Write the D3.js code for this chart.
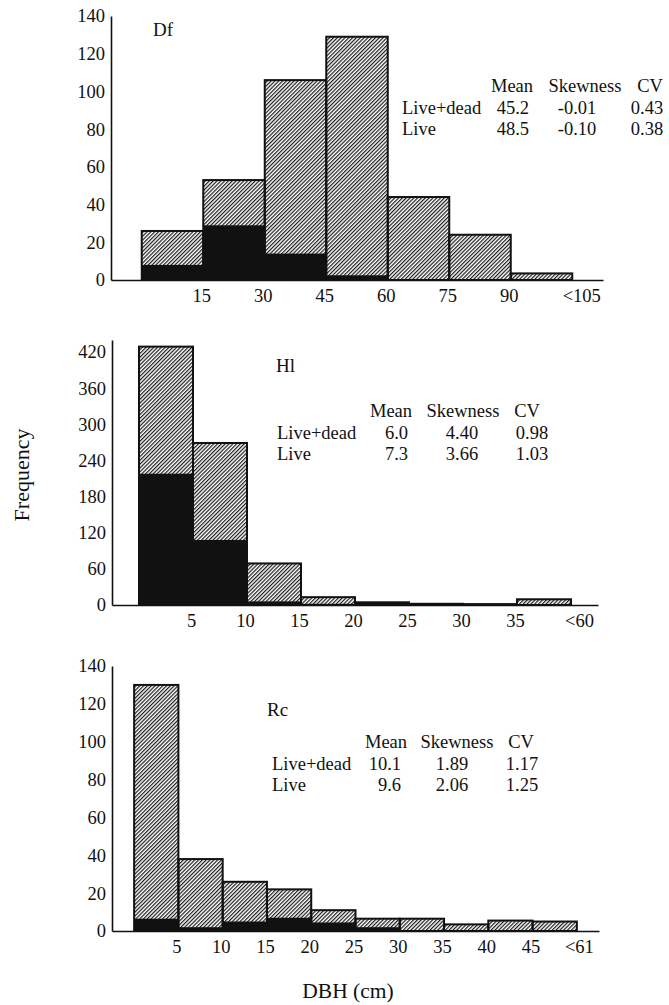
<!DOCTYPE html>
<html>
<head>
<meta charset="utf-8">
<script src="https://cdn.jsdelivr.net/npm/d3@7"></script>
<style>
  body { margin: 0; background: #fff; }
  svg text { font-family: "Liberation Serif", "Times New Roman", serif; fill: #111; }
</style>
</head>
<body>
<div id="chart"></div>
<script>
// Df
const dfTicks = ["15", "30", "45", "60", "75", "90", "<105"];
const dfAll = [26, 53, 106, 129, 44, 24, 3.5];
const dfDark = [8, 29, 14, 2.5, 0, 0, 0];
const dfStats = [["45.2", "-0.01", "0.43"], ["48.5", "-0.10", "0.38"]];

// Hl
const hlTicks = ["5", "10", "15", "20", "25", "30", "35", "<60"];
const hlAll = [429, 269, 69, 13, 4.5, 2, 1.5, 9.5];
const hlDark = [218, 108, 6, 2, 4.5, 2, 1, 0];
const hlStats = [["6.0", "4.40", "0.98"], ["7.3", "3.66", "1.03"]];

// Rc
const rcTicks = ["5", "10", "15", "20", "25", "30", "35", "40", "45", "<61"];
const rcAll = [130, 38, 26, 22, 11, 6.5, 6.5, 3.5, 5.5, 5];
const rcDark = [6.5, 2, 5, 7, 4.5, 2, 0, 0, 0, 0];
const rcStats = [["10.1", "1.89", "1.17"], ["9.6", "2.06", "1.25"]];

const statCols = ["Mean", "Skewness", "CV"];
const statRows = ["Live+dead", "Live"];

const width = 669, height = 1005;

const svg = d3.select("#chart")
    .append("svg")
    .attr("width", width)
    .attr("height", height);

// hatch fill
const hs = 2.7;
svg.append("defs")
    .append("pattern")
    .attr("id", "hatch")
    .attr("patternUnits", "userSpaceOnUse")
    .attr("width", hs)
    .attr("height", hs)
    .attr("patternTransform", "rotate(45)")
    .call(p => {
        p.append("rect").attr("width", hs).attr("height", hs).attr("fill", "#fff");
        p.append("line")
            .attr("x1", 0.6).attr("y1", 0).attr("x2", 0.6).attr("y2", hs)
            .attr("stroke", "#1a1a1a")
            .attr("stroke-width", 1.2);
    });

const panels = [
    { name: "Df", all: dfAll, dark: dfDark, ticks: dfTicks, stats: dfStats,
      x0: 111, x1: 603, y0: 280, yMax: 140, yTop: 16, yStep: 20, lastDx: 9,
      title: [153, 36],
      table: { lx: 402, hy: 92, heads: [512, 585, 650], meanV: 529, skewV: 577, cvV: 647 } },
    { name: "Hl", all: hlAll, dark: hlDark, ticks: hlTicks, stats: hlStats,
      x0: 112, x1: 598, y0: 605, yMax: 440, yTop: 340, yStep: 60, yLast: 420, lastDx: 8,
      title: [276, 372],
      table: { lx: 277, hy: 417, heads: [391, 463, 527], meanV: 408, skewV: 462, cvV: 532 } },
    { name: "Rc", all: rcAll, dark: rcDark, ticks: rcTicks, stats: rcStats,
      x0: 112, x1: 599, y0: 931, yMax: 140, yTop: 666, yStep: 20, lastDx: 2,
      title: [267, 716],
      table: { lx: 272, hy: 748, heads: [386, 457, 521], meanV: 401, skewV: 452, cvV: 522 } }
];

panels.forEach(p => {
    const n = p.all.length;
    const g = svg.append("g");

    const x = d3.scaleLinear()
        .domain([-0.5, n + 0.5])
        .range([p.x0, p.x1]);

    const y = d3.scaleLinear()
        .domain([0, p.yMax])
        .range([p.y0, p.yTop]);

    const bins = d3.range(n);

    // hatched total
    g.selectAll(".tot")
        .data(bins)
        .join("rect")
        .attr("class", "tot")
        .attr("x", i => x(i))
        .attr("width", i => x(i + 1) - x(i))
        .attr("y", i => y(p.all[i]))
        .attr("height", i => y(0) - y(p.all[i]))
        .attr("fill", "url(#hatch)");

    // solid part
    g.selectAll(".dark")
        .data(bins.filter(i => p.dark[i] > 0))
        .join("rect")
        .attr("class", "dark")
        .attr("x", i => x(i))
        .attr("width", i => x(i + 1) - x(i))
        .attr("y", i => y(p.dark[i]))
        .attr("height", i => y(0) - y(p.dark[i]))
        .attr("fill", "#111");

    // outlines
    g.selectAll(".edge")
        .data(bins)
        .join("rect")
        .attr("class", "edge")
        .attr("x", i => x(i))
        .attr("width", i => x(i + 1) - x(i))
        .attr("y", i => y(p.all[i]))
        .attr("height", i => y(0) - y(p.all[i]))
        .attr("fill", "none")
        .attr("stroke", "#111")
        .attr("stroke-width", 2);

    // y axis
    const yTicks = d3.range(0, (p.yLast || p.yMax) + 1, p.yStep);
    const yAxis = g.append("g")
        .attr("transform", `translate(${p.x0},0)`)
        .call(d3.axisLeft(y).tickValues(yTicks).tickSize(0).tickPadding(6));
    yAxis.select(".domain").attr("stroke", "#111").attr("stroke-width", 1.6);
    yAxis.selectAll("text")
        .attr("font-size", 18.5)
        .attr("font-family", "Liberation Serif, Times New Roman, serif");

    // x axis
    const xAxis = g.append("g")
        .attr("transform", `translate(0,${p.y0})`)
        .call(d3.axisBottom(x)
            .tickValues(d3.range(1, n + 1))
            .tickFormat(v => p.ticks[v - 1])
            .tickSize(0)
            .tickPadding(9));
    xAxis.select(".domain").attr("stroke", "#111").attr("stroke-width", 1.6);
    xAxis.selectAll("text")
        .attr("font-size", 18.5)
        .attr("font-family", "Liberation Serif, Times New Roman, serif")
        .attr("dx", v => v === n ? p.lastDx : -2);

    // panel name
    g.append("text")
        .attr("x", p.title[0])
        .attr("y", p.title[1])
        .attr("font-size", 19)
        .text(p.name);

    // stats table
    const t = p.table;
    const rowGap = 21.7;
    g.selectAll(".head")
        .data(statCols)
        .join("text")
        .attr("x", (d, i) => t.heads[i])
        .attr("y", t.hy)
        .attr("text-anchor", "middle")
        .attr("font-size", 18.5)
        .text(d => d);

    statRows.forEach((r, ri) => {
        const yy = t.hy + rowGap * (ri + 1);
        g.append("text")
            .attr("x", t.lx)
            .attr("y", yy)
            .attr("font-size", 18.5)
            .text(r);
        g.append("text")
            .attr("x", t.meanV)
            .attr("y", yy)
            .attr("text-anchor", "end")
            .attr("font-size", 18.5)
            .text(p.stats[ri][0]);
        g.append("text")
            .attr("x", t.skewV)
            .attr("y", yy)
            .attr("text-anchor", "middle")
            .attr("font-size", 18.5)
            .text(p.stats[ri][1]);
        g.append("text")
            .attr("x", t.cvV)
            .attr("y", yy)
            .attr("text-anchor", "middle")
            .attr("font-size", 18.5)
            .text(p.stats[ri][2]);
    });
});

// shared axis titles
svg.append("text")
    .attr("transform", "translate(29,475) rotate(-90)")
    .attr("text-anchor", "middle")
    .attr("font-size", 22)
    .text("Frequency");

svg.append("text")
    .attr("x", 348)
    .attr("y", 998)
    .attr("text-anchor", "middle")
    .attr("font-size", 21.5)
    .text("DBH (cm)");
</script>
</body>
</html>
